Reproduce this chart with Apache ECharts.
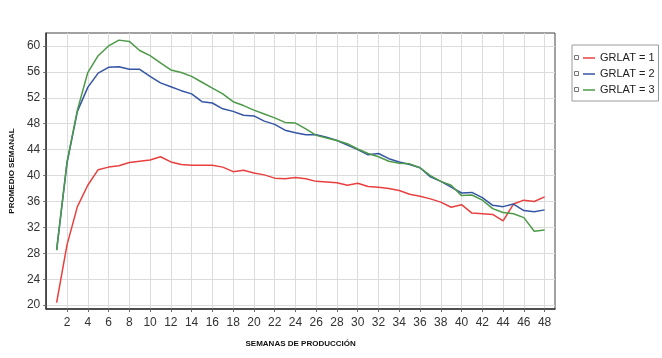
<!DOCTYPE html>
<html>
<head>
<meta charset="utf-8">
<script src="https://cdn.jsdelivr.net/npm/echarts@6/dist/echarts.min.js"></script>
<style>
html,body{margin:0;padding:0;background:#fff;}
#c{width:662px;height:358px;}
</style>
</head>
<body>
<div id="c"></div>
<script>
const weeks = [1,2,3,4,5,6,7,8,9,10,11,12,13,14,15,16,17,18,19,20,21,22,23,24,25,26,27,28,29,30,31,32,33,34,35,36,37,38,39,40,41,42,43,44,45,46,47,48];
const grlat1 = [20.4,29.3,35.2,38.5,40.9,41.3,41.5,42.0,42.2,42.4,42.9,42.1,41.7,41.6,41.6,41.6,41.3,40.6,40.8,40.4,40.1,39.6,39.5,39.7,39.5,39.1,39.0,38.9,38.5,38.8,38.3,38.2,38.0,37.7,37.1,36.8,36.4,35.9,35.1,35.5,34.2,34.1,34.0,33.0,35.6,36.2,36.0,36.7];
const grlat2 = [28.5,41.9,49.9,53.6,55.8,56.7,56.8,56.4,56.4,55.3,54.3,53.7,53.1,52.6,51.4,51.2,50.3,49.9,49.3,49.2,48.4,47.9,47.0,46.6,46.3,46.3,45.9,45.4,44.7,44.0,43.2,43.4,42.6,42.1,41.7,41.2,39.8,39.1,38.2,37.3,37.4,36.6,35.4,35.2,35.6,34.6,34.4,34.7];
const grlat3 = [28.5,42.1,50.1,55.9,58.5,60.0,60.9,60.7,59.3,58.5,57.4,56.3,55.9,55.3,54.4,53.5,52.6,51.4,50.8,50.1,49.5,48.9,48.2,48.1,47.2,46.2,45.8,45.4,44.9,44.1,43.4,42.9,42.2,41.9,41.8,41.2,40.0,39.1,38.5,36.9,37.0,36.2,34.9,34.3,34.1,33.5,31.4,31.6];
const seriesNames = ['GRLAT = 1','GRLAT = 2','GRLAT = 3'];
const xTicks = [2,4,6,8,10,12,14,16,18,20,22,24,26,28,30,32,34,36,38,40,42,44,46,48];
const yTicks = [20,24,28,32,36,40,44,48,52,56,60];
const colors = ['#e8403f','#3454a4','#4c9a48'];

const chart = echarts.init(document.getElementById('c'), null, {renderer:'canvas'});
const font = 'Liberation Sans, Arial, sans-serif';
function pairs(vals){ return weeks.map((w,i)=>[w, vals[i]]); }
const allVals = [grlat1, grlat2, grlat3];

chart.setOption({
  animation:false,
  backgroundColor:'#fff',
  color: colors,
  textStyle:{fontFamily:font},
  grid:{left:40, top:33, right:107, bottom:49, show:true, borderColor:'#444', borderWidth:1, backgroundColor:'#fff'},
  legend:{
    orient:'vertical', left:572, top:45,
    data: seriesNames,
    icon:'rect', itemWidth:12, itemHeight:1.5, itemGap:4,
    backgroundColor:'#fff', borderColor:'#9a9a9a', borderWidth:1,
    padding:[7,4,5,11],
    textStyle:{fontSize:11, color:'#222', fontFamily:font, lineHeight:12},
    selectedMode:false
  },
  xAxis:{
    type:'value', min:0, max:49,
    name:'SEMANAS DE PRODUCCIÓN', nameLocation:'middle', nameGap:31,
    nameTextStyle:{fontSize:8, fontWeight:'bold', color:'#111', fontFamily:font},
    axisLine:{show:true, lineStyle:{color:'#333', width:1.5}},
    axisTick:{show:true, length:3, inside:false, customValues:xTicks, lineStyle:{color:'#666'}},
    axisLabel:{customValues:xTicks, fontSize:12, color:'#333', margin:8},
    splitLine:{show:true, lineStyle:{color:'#dcdcdc', width:1}}
  },
  yAxis:{
    type:'value', min:19.4, max:62,
    name:'PROMEDIO SEMANAL', nameLocation:'middle', nameGap:26, nameRotate:90,
    nameTextStyle:{fontSize:8, fontWeight:'bold', color:'#111', fontFamily:font},
    axisLine:{show:true, lineStyle:{color:'#333', width:1.5}},
    axisTick:{show:true, length:3, customValues:yTicks, lineStyle:{color:'#666'}},
    axisLabel:{customValues:yTicks, fontSize:12, color:'#333', margin:6},
    splitLine:{show:true, lineStyle:{color:'#dcdcdc', width:1}}
  },
  graphic: [0,1,2].map(i=>({
    type:'rect', left:574, top:55+i*16, shape:{width:4,height:4},
    style:{fill:'#fff', stroke:'#777', lineWidth:1}, z:100
  })),
  series: seriesNames.map((n,i)=>({
    name:n, type:'line', data:pairs(allVals[i]), showSymbol:false, symbol:'none',
    lineStyle:{width:1.5, color:colors[i]}, itemStyle:{color:colors[i]}, clip:false
  }))
});
</script>
</body>
</html>
